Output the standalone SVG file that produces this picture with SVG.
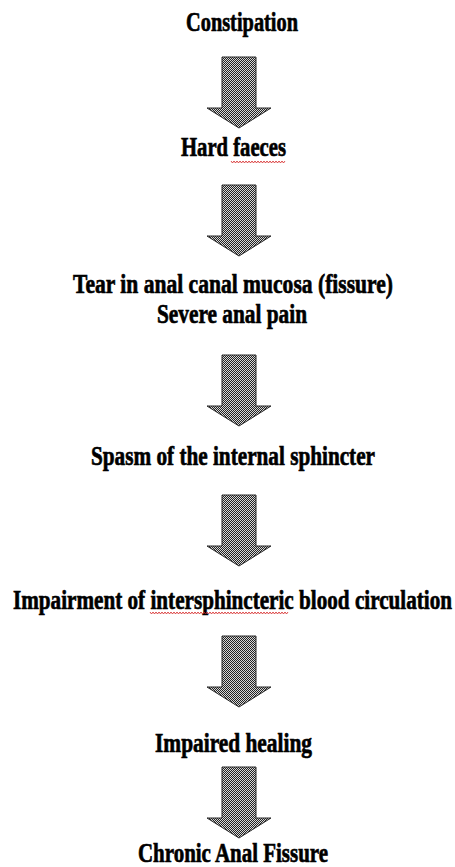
<svg xmlns="http://www.w3.org/2000/svg" width="455" height="867" viewBox="0 0 455 867">
<style>
  .t { font-family: "Liberation Serif", "Times New Roman", serif; font-weight: bold; font-size: 20px; fill: #000; stroke: #000; stroke-width: 0.5; }
  .arrow { fill: url(#dots); stroke: #2a2a2a; stroke-width: 1; stroke-linejoin: miter; }
  .squig { fill: none; stroke: #d42020; stroke-width: 0.8; }
</style>
<defs>
  <pattern id="dots" width="2" height="2" patternUnits="userSpaceOnUse">
    <rect width="2" height="2" fill="#d8d8d8"/>
    <rect x="0" y="0" width="1" height="1" fill="#222"/>
    <rect x="1" y="1" width="1" height="1" fill="#222"/>
  </pattern>
  <path id="arr" d="M222,0 H256 V51 H271 L239,71 L207,51 H222 Z"/>
</defs>
<rect width="455" height="867" fill="#fff"/>

<g id="connectors">
  <use href="#arr" class="arrow" transform="translate(0,57)"/>
  <use href="#arr" class="arrow" transform="translate(0,185)"/>
  <use href="#arr" class="arrow" transform="translate(0,355)"/>
  <use href="#arr" class="arrow" transform="translate(0,495)"/>
  <use href="#arr" class="arrow" transform="translate(0,636)"/>
  <use href="#arr" class="arrow" transform="translate(0,767)"/>
</g>

<g id="n1"><text class="t" transform="translate(186,31) scale(1,1.35)" textLength="112" lengthAdjust="spacingAndGlyphs">Constipation</text></g>
<g id="n2">
  <text class="t" transform="translate(181,156) scale(1,1.35)" textLength="105" lengthAdjust="spacingAndGlyphs">Hard faeces</text>
  <path class="squig" d="M231,161 l1.5,2 l1.5,-2 l1.5,2 l1.5,-2 l1.5,2 l1.5,-2 l1.5,2 l1.5,-2 l1.5,2 l1.5,-2 l1.5,2 l1.5,-2 l1.5,2 l1.5,-2 l1.5,2 l1.5,-2 l1.5,2 l1.5,-2 l1.5,2 l1.5,-2 l1.5,2 l1.5,-2 l1.5,2 l1.5,-2 l1.5,2 l1.5,-2 l1.5,2 l1.5,-2 l1.5,2 l1.5,-2 l1.5,2 l1.5,-2 l1.5,2 l1.5,-2 l1.5,2 l1.5,-2"/>
</g>
<g id="n3">
  <text class="t" transform="translate(73,293) scale(1,1.35)" textLength="320" lengthAdjust="spacingAndGlyphs">Tear in anal canal mucosa (fissure)</text>
  <text class="t" transform="translate(157,323) scale(1,1.35)" textLength="150" lengthAdjust="spacingAndGlyphs">Severe anal pain</text>
</g>
<g id="n4"><text class="t" transform="translate(91,465) scale(1,1.35)" textLength="284" lengthAdjust="spacingAndGlyphs">Spasm of the internal sphincter</text></g>
<g id="n5">
  <text class="t" transform="translate(13,609) scale(1,1.35)" textLength="439" lengthAdjust="spacingAndGlyphs">Impairment of intersphincteric blood circulation</text>
  <path class="squig" d="M150,612 l1.5,2 l1.5,-2 l1.5,2 l1.5,-2 l1.5,2 l1.5,-2 l1.5,2 l1.5,-2 l1.5,2 l1.5,-2 l1.5,2 l1.5,-2 l1.5,2 l1.5,-2 l1.5,2 l1.5,-2 l1.5,2 l1.5,-2 l1.5,2 l1.5,-2 l1.5,2 l1.5,-2 l1.5,2 l1.5,-2 l1.5,2 l1.5,-2 l1.5,2 l1.5,-2 l1.5,2 l1.5,-2 l1.5,2 l1.5,-2 l1.5,2 l1.5,-2 l1.5,2 l1.5,-2 l1.5,2 l1.5,-2 l1.5,2 l1.5,-2 l1.5,2 l1.5,-2 l1.5,2 l1.5,-2 l1.5,2 l1.5,-2 l1.5,2 l1.5,-2 l1.5,2 l1.5,-2 l1.5,2 l1.5,-2 l1.5,2 l1.5,-2 l1.5,2 l1.5,-2 l1.5,2 l1.5,-2 l1.5,2 l1.5,-2 l1.5,2 l1.5,-2 l1.5,2 l1.5,-2 l1.5,2 l1.5,-2 l1.5,2 l1.5,-2 l1.5,2 l1.5,-2 l1.5,2 l1.5,-2 l1.5,2 l1.5,-2 l1.5,2 l1.5,-2 l1.5,2 l1.5,-2 l1.5,2 l1.5,-2 l1.5,2 l1.5,-2 l1.5,2 l1.5,-2 l1.5,2 l1.5,-2 l1.5,2 l1.5,-2 l1.5,2 l1.5,-2 l1.5,2 l1.5,-2"/>
</g>
<g id="n6"><text class="t" transform="translate(155,752) scale(1,1.35)" textLength="157" lengthAdjust="spacingAndGlyphs">Impaired healing</text></g>
<g id="n7"><text class="t" transform="translate(138,862) scale(1,1.35)" textLength="190" lengthAdjust="spacingAndGlyphs">Chronic Anal Fissure</text></g>
</svg>
